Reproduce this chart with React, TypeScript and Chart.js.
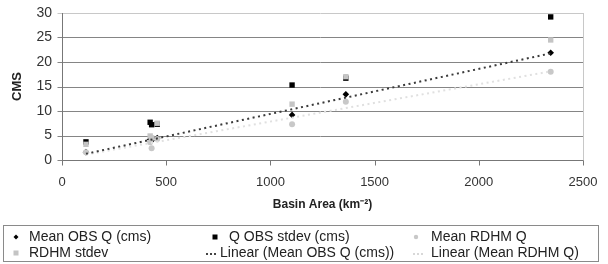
import React, { useEffect, useRef } from 'react';
import { Chart, registerables } from 'chart.js';

Chart.register(...registerables);

// Data
const basinArea = [115, 423, 430, 457, 1104, 1362, 2345];
const meanObsQ = [1.6, 4.2, 4.0, 4.5, 9.2, 13.4, 21.9];
const qObsStdev = [3.7, 7.7, 7.2, 7.3, 15.3, 16.7, 29.2];
const meanRdhmQ = [1.6, 3.6, 2.4, 4.3, 7.3, 11.9, 18.0];
const rdhmStdev = [3.2, 4.9, 4.5, 7.5, 11.4, 17.0, 24.5];

const xTickValues = [0, 500, 1000, 1500, 2000, 2500];
const yTickValues = [0, 5, 10, 15, 20, 25, 30];

const seriesNames = [
  'Mean OBS Q (cms)',
  'Q OBS stdev (cms)',
  'Mean RDHM Q',
  'RDHM stdev',
  'Linear (Mean OBS Q (cms))',
  'Linear (Mean RDHM Q)',
];

const FONT = '"Liberation Sans", Arial, sans-serif';

function points(xs: number[], ys: number[]) {
  return xs.map((x, i) => ({ x, y: ys[i] }));
}

// Least-squares trend line (as the spreadsheet's "Linear" trendline)
function linearFit(xs: number[], ys: number[]) {
  const n = xs.length;
  const mx = xs.reduce((a, b) => a + b, 0) / n;
  const my = ys.reduce((a, b) => a + b, 0) / n;
  let sxy = 0;
  let sxx = 0;
  for (let i = 0; i < n; i++) {
    sxy += (xs[i] - mx) * (ys[i] - my);
    sxx += (xs[i] - mx) * (xs[i] - mx);
  }
  const slope = sxy / sxx;
  const icpt = my - slope * mx;
  const x0 = Math.min(...xs);
  const x1 = Math.max(...xs);
  return [
    { x: x0, y: icpt + slope * x0 },
    { x: x1, y: icpt + slope * x1 },
  ];
}

const legendPlugin = {
  id: 'boxLegend',
  afterDraw(chart: any) {
    const ctx = chart.ctx as CanvasRenderingContext2D;
    ctx.save();
    ctx.strokeStyle = '#8a8a8a';
    ctx.lineWidth = 1;
    ctx.strokeRect(3.5, 225.5, 595, 36);
    ctx.font = `14px ${FONT}`;
    ctx.textBaseline = 'middle';
    ctx.textAlign = 'left';
    const items = [
      { kind: 'diamond', color: '#000', mx: 16, tx: 29, y: 237 },
      { kind: 'square', color: '#000', mx: 215, tx: 229, y: 237 },
      { kind: 'circle', color: '#c8c8c8', mx: 416, tx: 431, y: 237 },
      { kind: 'square', color: '#c4c4c4', mx: 16, tx: 29, y: 253 },
      { kind: 'dots', color: '#444', mx: 206, tx: 220, y: 253 },
      { kind: 'dots', color: '#d8d8d8', mx: 413, tx: 431, y: 253 },
    ];
    items.forEach((it, i) => {
      ctx.fillStyle = it.color;
      if (it.kind === 'diamond') {
        ctx.beginPath();
        ctx.moveTo(it.mx, it.y - 2.5);
        ctx.lineTo(it.mx + 2.5, it.y);
        ctx.lineTo(it.mx, it.y + 2.5);
        ctx.lineTo(it.mx - 2.5, it.y);
        ctx.closePath();
        ctx.fill();
      } else if (it.kind === 'square') {
        ctx.fillRect(it.mx - 2.5, it.y - 2.5, 5, 5);
      } else if (it.kind === 'circle') {
        ctx.beginPath();
        ctx.arc(it.mx, it.y, 2.2, 0, Math.PI * 2);
        ctx.fill();
      } else {
        for (let k = 0; k < 3; k++) {
          ctx.fillRect(it.mx + k * 4, it.y, 2, 2);
        }
      }
      ctx.fillStyle = '#222';
      ctx.fillText(seriesNames[i], it.tx, it.y);
    });
    ctx.restore();
  },
};

const framePlugin = {
  id: 'frame',
  beforeDatasetsDraw(chart: any) {
    const { ctx, chartArea, scales } = chart;
    ctx.save();
    ctx.lineWidth = 1;
    const left = Math.round(chartArea.left) + 0.5;
    const bottom = Math.round(chartArea.bottom) + 0.5;
    const right = Math.round(chartArea.right) + 0.5;
    // horizontal gridlines with small outside tick marks
    yTickValues.forEach((v) => {
      const py = Math.round(scales.y.getPixelForValue(v)) + 0.5;
      ctx.strokeStyle = v === yTickValues[yTickValues.length - 1] ? '#c8c8c8' : '#858585';
      ctx.beginPath();
      ctx.moveTo(left - 5, py);
      ctx.lineTo(right, py);
      ctx.stroke();
    });
    // x tick marks
    ctx.strokeStyle = '#777';
    xTickValues.forEach((v) => {
      const px = Math.round(scales.x.getPixelForValue(v)) + 0.5;
      ctx.beginPath();
      ctx.moveTo(px, bottom);
      ctx.lineTo(px, bottom + 5);
      ctx.stroke();
    });
    // right frame edge
    ctx.strokeStyle = '#c8c8c8';
    ctx.beginPath();
    ctx.moveTo(right, chartArea.top);
    ctx.lineTo(right, bottom);
    ctx.stroke();
    // axis lines
    ctx.strokeStyle = '#777';
    ctx.beginPath();
    ctx.moveTo(left, chartArea.top);
    ctx.lineTo(left, bottom);
    ctx.lineTo(right, bottom);
    ctx.stroke();
    ctx.restore();
  },
};

export default function App() {
  const ref = useRef<HTMLCanvasElement | null>(null);

  useEffect(() => {
    if (!ref.current) return;
    const chart = new Chart(ref.current, {
      type: 'scatter',
      data: {
        datasets: [
          {
            label: seriesNames[4],
            data: linearFit(basinArea, meanObsQ),
            showLine: true,
            borderColor: '#3a3a3a',
            borderWidth: 2,
            borderDash: [2, 3.5],
            pointRadius: 0,
          },
          {
            label: seriesNames[5],
            data: linearFit(basinArea, meanRdhmQ),
            showLine: true,
            borderColor: '#e0e0e0',
            borderWidth: 2,
            borderDash: [2, 3.5],
            pointRadius: 0,
          },
          {
            label: seriesNames[3],
            data: points(basinArea, rdhmStdev),
            pointStyle: 'rect',
            pointRadius: 3.8,
            backgroundColor: '#c4c4c4',
            borderColor: '#c4c4c4',
            borderWidth: 0,
          },
          {
            label: seriesNames[2],
            data: points(basinArea, meanRdhmQ),
            pointStyle: 'circle',
            pointRadius: 3,
            backgroundColor: '#c8c8c8',
            borderColor: '#c8c8c8',
            borderWidth: 0,
          },
          {
            label: seriesNames[1],
            data: points(basinArea, qObsStdev),
            pointStyle: 'rect',
            pointRadius: 3.8,
            backgroundColor: '#000',
            borderColor: '#000',
            borderWidth: 0,
          },
          {
            label: seriesNames[0],
            data: points(basinArea, meanObsQ),
            pointStyle: 'rectRot',
            pointRadius: 3.3,
            backgroundColor: '#000',
            borderColor: '#000',
            borderWidth: 0,
          },
        ],
      },
      options: {
        animation: false,
        responsive: true,
        maintainAspectRatio: false,
        layout: { padding: { top: 13, right: 25, bottom: 49, left: 0 } },
        plugins: {
          legend: { display: false },
          tooltip: { enabled: false },
        },
        scales: {
          x: {
            type: 'linear',
            min: xTickValues[0],
            max: xTickValues[xTickValues.length - 1],
            afterFit: (s: any) => {
              s.height = 55;
            },
            ticks: {
              stepSize: xTickValues[1] - xTickValues[0],
              callback: (v: any) => String(v),
              color: '#333',
              font: { family: FONT, size: 13 },
              padding: 7,
            },
            grid: {
              display: false,
            },
            border: { display: false },
            title: {
              display: true,
              text: 'Basin Area (km⁻²)',
              color: '#222',
              font: { family: FONT, size: 12, weight: 'bold' },
              padding: { top: 0, bottom: 3 },
            },
          },
          y: {
            type: 'linear',
            min: yTickValues[0],
            max: yTickValues[yTickValues.length - 1],
            afterFit: (s: any) => {
              s.width = 62;
            },
            ticks: {
              stepSize: yTickValues[1] - yTickValues[0],
              callback: (v: any) => String(v),
              color: '#333',
              font: { family: FONT, size: 14 },
              padding: 4.5,
            },
            grid: {
              display: true,
              drawOnChartArea: false,
              drawTicks: true,
              tickLength: 5.5,
              color: 'rgba(0,0,0,0)',
            },
            border: { display: false },
            title: {
              display: true,
              text: 'CMS',
              color: '#222',
              font: { family: FONT, size: 13, weight: 'bold' },
              padding: { top: 10, bottom: 0 },
            },
          },
        },
      },
      plugins: [framePlugin, legendPlugin],
    } as any);
    return () => chart.destroy();
  }, []);

  return (
    <div style={{ position: 'absolute', left: 0, top: 0, width: 608, height: 264, background: '#fff' }}>
      <canvas ref={ref} />
    </div>
  );
}
